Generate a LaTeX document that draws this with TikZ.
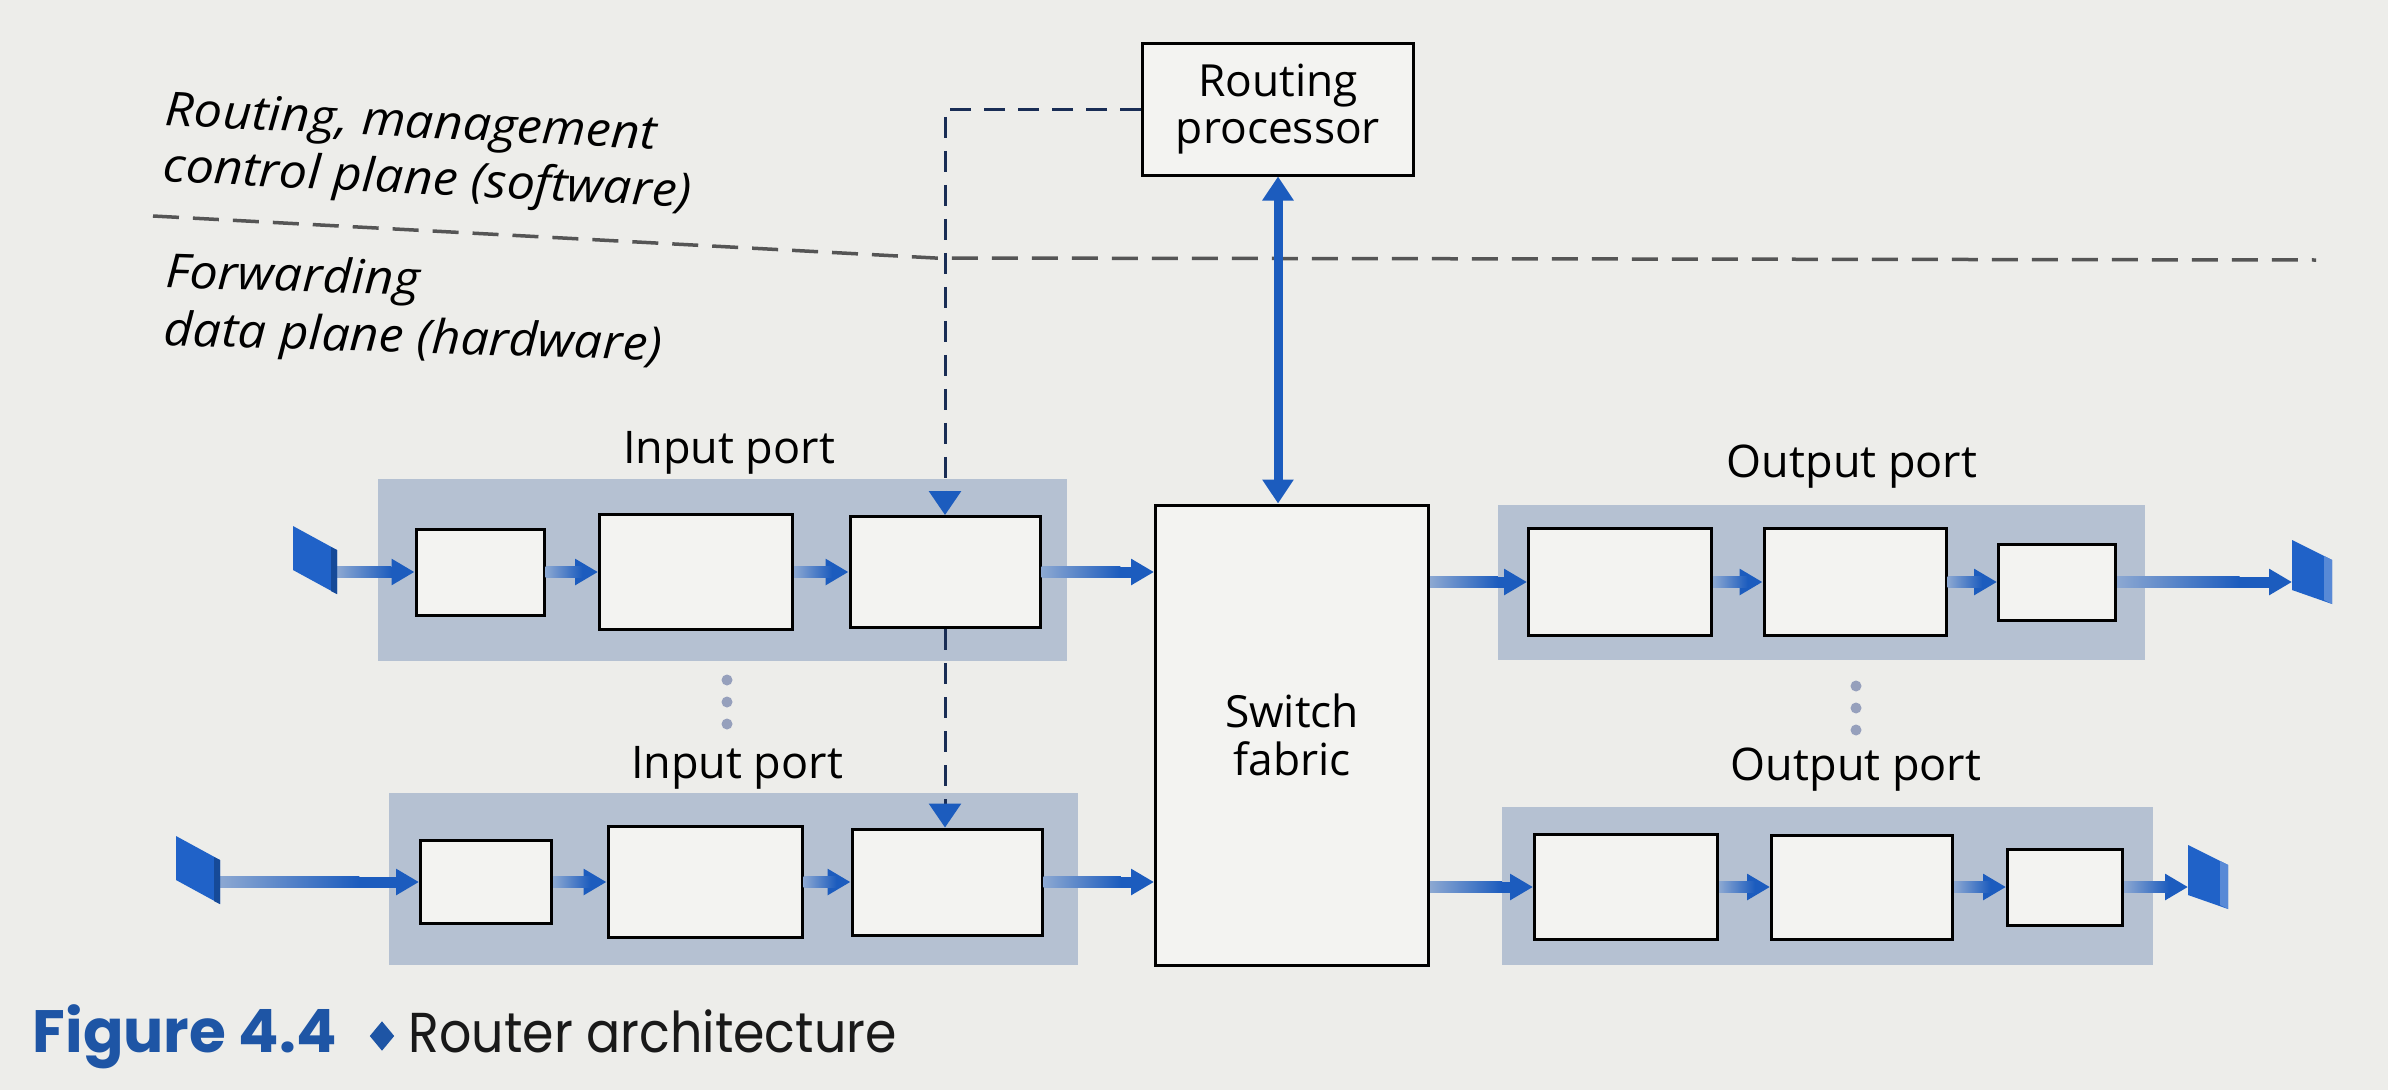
\documentclass[tikz,border=0pt]{standalone}
\usepackage{fontspec}
\setmainfont{Open Sans}
\newfontfamily\lblfont[FakeStretch=1.07]{Open Sans}
\newfontfamily\capfont{Poppins}
\newfontfamily\capfontnarrow[FakeStretch=0.9]{Poppins}
\usetikzlibrary{arrows.meta,calc,shapes.geometric}
\definecolor{pagebg}{RGB}{237,237,234}
\definecolor{portgray}{RGB}{181,193,210}
\definecolor{boxfill}{RGB}{243,243,241}
\definecolor{flowblue}{RGB}{28,92,190}
\definecolor{flowpale}{RGB}{140,168,210}
\definecolor{plugblue}{RGB}{32,98,200}
\definecolor{dashnavy}{RGB}{25,45,85}
\definecolor{planegray}{RGB}{85,85,85}
\definecolor{dotgray}{RGB}{150,160,188}
\definecolor{capblue}{RGB}{30,85,165}
\definecolor{captext}{RGB}{25,25,25}
\tikzset{
  portbox/.style={fill=portgray, inner sep=0},
  stage/.style 2 args={draw=black, line width=0.3mm, fill=boxfill, inner sep=0,
    minimum width=#1mm, minimum height=#2mm},
  bigbox/.style={draw=black, line width=0.3mm, fill=boxfill, inner sep=0,
    align=center, font=\fontsize{12.6}{13.6}\selectfont},
  portlbl/.style={inner sep=0, font=\fontsize{12.8}{15}\selectfont},
  planelbl/.style={anchor=north west, inner sep=0, align=left},
  planeline/.style={draw=planegray, line width=0.35mm, dash pattern=on 2.6mm off 1.4mm},
  ctrlline/.style={draw=dashnavy, line width=0.3mm, dash pattern=on 2.1mm off 1.3mm,
    -{Triangle[width=3.2mm,length=2.4mm,color=flowblue]}},
  rpline/.style={draw=flowblue, line width=0.9mm,
    {Triangle[width=3.0mm,length=2.4mm]}-{Triangle[width=3.0mm,length=2.4mm]}},
  flowline/.style={draw=flowblue, line width=1.1mm, -{Triangle[width=2.5mm,length=2.3mm]}},
  plug/.style={fill=plugblue},
}
\newcommand\flowarrow[2]{%
  \draw[flowline] (#1) -- (#2);
  \shade[left color=flowpale, right color=flowblue]
    ($(#1)+(0,-5.5)$) rectangle ($(#1)!0.7!(#2)+(0,5.5)$);}
\newcommand\inplug[1]{%
  \fill[plug] ([shift={(-44,-46)}]#1) -- ([shift={(0,-22)}]#1) -- ([shift={(0,22)}]#1) -- ([shift={(-44,-2)}]#1) -- cycle;
  \fill[flowblue!80!black] ([shift={(-6,-25)}]#1) -- ([shift={(0,-22)}]#1) -- ([shift={(0,22)}]#1) -- ([shift={(-6,19)}]#1) -- cycle;}
\newcommand\outplug[1]{%
  \fill[plug] ([shift={(0,-42)}]#1) -- ([shift={(40,-22)}]#1) -- ([shift={(40,22)}]#1) -- ([shift={(0,8)}]#1) -- cycle;
  \fill[plugblue!75!white] ([shift={(32,-26)}]#1) -- ([shift={(40,-22)}]#1) -- ([shift={(40,22)}]#1) -- ([shift={(32,18)}]#1) -- cycle;}
\begin{document}
\begin{tikzpicture}[x=0.1mm,y=-0.1mm]
\useasboundingbox (0,0) rectangle (2388,1090);
\fill[pagebg] (0,0) rectangle (2388,1090);

% plane separator
\draw[planeline] (153,216) -- (935,258) -- (2316,260);

% plane labels
\node[planelbl, rotate=-2.8, font=\lblfont\itshape\fontsize{13.4}{16}\selectfont] (ctrlLbl) at (166,90)
  {Routing, management\\control plane (software)};
\node[planelbl, rotate=-1.8, font=\lblfont\itshape\fontsize{13.4}{16.4}\selectfont] (dataLbl) at (166,251)
  {Forwarding\\data plane (hardware)};

% port backgrounds
\node[portbox, minimum width=68.9mm, minimum height=18.2mm] (uInBg) at (722,570) {};
\node[portbox, minimum width=64.7mm, minimum height=15.5mm] (uOutBg) at (1821,582) {};
\node[portbox, minimum width=68.9mm, minimum height=17.2mm] (lInBg) at (733,879) {};
\node[portbox, minimum width=65.1mm, minimum height=15.8mm] (lOutBg) at (1827,886) {};

% port labels
\node[portlbl] (uInLbl) at (729,453) {Input port};
\node[portlbl] (lInLbl) at (737,768) {Input port};
\node[portlbl] (uOutLbl) at (1852,467) {Output port};
\node[portlbl] (lOutLbl) at (1856,770) {Output port};

% routing processor and switch fabric
\node[bigbox, minimum width=27.1mm, minimum height=13.2mm] (RP) at (1278,109) {Routing\\processor};
\node[bigbox, minimum width=27.3mm, minimum height=46.0mm] (SF) at (1292,735) {Switch\\fabric};

% stages
\node[stage={12.8}{8.6}] (uB1) at (480,572) {};
\node[stage={19.3}{11.5}] (uB2) at (696,572) {};
\node[stage={19.0}{11.1}] (uB3) at (945,572) {};
\node[stage={18.3}{10.7}] (uOA) at (1620,582) {};
\node[stage={18.2}{10.7}] (uOB) at (1855,582) {};
\node[stage={11.7}{7.6}] (uOC) at (2057,582) {};
\node[stage={13.1}{8.3}] (lB1) at (486,882) {};
\node[stage={19.4}{11.1}] (lB2) at (705,882) {};
\node[stage={19.0}{10.6}] (lB3) at (947,882) {};
\node[stage={18.3}{10.5}] (lOA) at (1626,887) {};
\node[stage={18.1}{10.4}] (lOB) at (1862,887) {};
\node[stage={11.5}{7.6}] (lOC) at (2065,887) {};

% link ends
\coordinate (uInL) at (337,572);
\coordinate (lInL) at (220,882);
\coordinate (uOutL) at (2292,582);
\coordinate (lOutL) at (2188,887);
\coordinate (sfInU) at (uB3.east -| SF.west);
\coordinate (sfInL) at (lB3.east -| SF.west);
\coordinate (sfOutU) at (uOA.west -| SF.east);
\coordinate (sfOutL) at (lOA.west -| SF.east);

% data flow arrows
\flowarrow{uInL}{uB1.west}
\flowarrow{uB1.east}{uB2.west}
\flowarrow{uB2.east}{uB3.west}
\flowarrow{uB3.east}{sfInU}
\flowarrow{sfOutU}{uOA.west}
\flowarrow{uOA.east}{uOB.west}
\flowarrow{uOB.east}{uOC.west}
\flowarrow{uOC.east}{uOutL}
\flowarrow{lInL}{lB1.west}
\flowarrow{lB1.east}{lB2.west}
\flowarrow{lB2.east}{lB3.west}
\flowarrow{lB3.east}{sfInL}
\flowarrow{sfOutL}{lOA.west}
\flowarrow{lOA.east}{lOB.west}
\flowarrow{lOB.east}{lOC.west}
\flowarrow{lOC.east}{lOutL}

\inplug{uInL}
\inplug{lInL}
\outplug{uOutL}
\outplug{lOutL}

% control connections
\draw[ctrlline] (RP.west) -| (uB3.north);
\draw[ctrlline] (uB3.south) -- (uB3.south |- lB3.north);
\draw[rpline] (RP.south) -- (RP.south |- SF.north);

% ellipsis dots
\foreach \yy in {680,702,724} \fill[dotgray] (727,\yy) circle[radius=0.55mm];
\foreach \yy in {686,708,730} \fill[dotgray] (1856,\yy) circle[radius=0.55mm];

% caption
\node[anchor=base west, inner sep=0, text=capblue, font=\capfont\bfseries\fontsize{17}{20}\selectfont] (figlbl) at (32,1052) {Figure 4.4};
\node[diamond, fill=capblue, inner sep=0, minimum width=2.5mm, minimum height=3.0mm] (dia) at (382,1036) {};
\node[anchor=base west, inner sep=0, text=captext, font=\capfontnarrow\fontsize{16}{19}\selectfont] (figtitle) at (408,1052) {Router architecture};
\end{tikzpicture}
\end{document}
